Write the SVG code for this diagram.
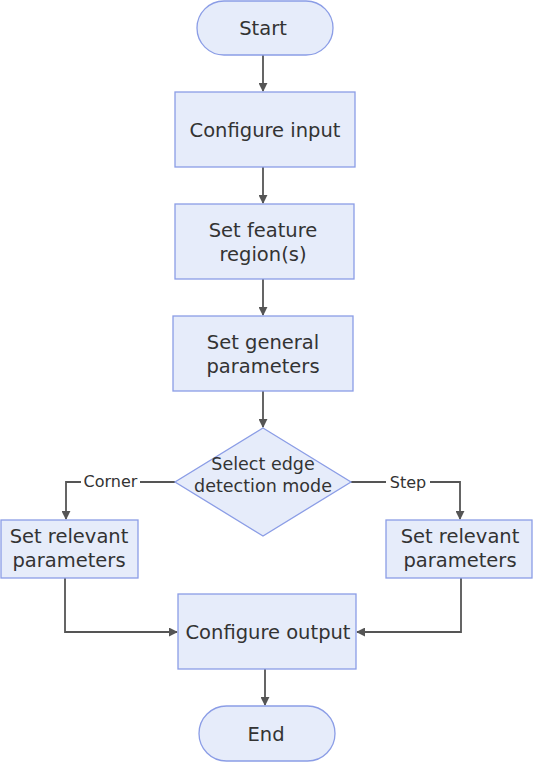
<svg xmlns="http://www.w3.org/2000/svg" width="533" height="762" viewBox="0 0 533 762">
<defs>
<style>
.n{fill:#e6ecfa;stroke:#8b9de6;stroke-width:1.3}
.t{font-family:"DejaVu Sans","Noto Sans",sans-serif;font-size:19.5px;fill:#333;text-anchor:middle;dominant-baseline:central}
.d{font-family:"DejaVu Sans","Noto Sans",sans-serif;font-size:17.5px;fill:#333;text-anchor:middle;dominant-baseline:central}
.l{font-family:"DejaVu Sans","Noto Sans",sans-serif;font-size:16px;fill:#333;text-anchor:middle;dominant-baseline:central}
.e{fill:none;stroke:#555;stroke-width:1.8}
</style>
<marker id="a" viewBox="0 0 10 10" refX="9" refY="5" markerWidth="5" markerHeight="5" orient="auto" markerUnits="strokeWidth">
<path d="M0,0L10,5L0,10z" fill="#555"/>
</marker>
</defs>
<rect width="533" height="762" fill="#fff"/>
<g id="edges">
<path class="e" d="M263,55V91" marker-end="url(#a)"/>
<path class="e" d="M263,167V203" marker-end="url(#a)"/>
<path class="e" d="M263,279V315" marker-end="url(#a)"/>
<path class="e" d="M263,391V427" marker-end="url(#a)"/>
<path class="e" d="M175,482H66V519" marker-end="url(#a)"/>
<path class="e" d="M351,482H460V519" marker-end="url(#a)"/>
<path class="e" d="M65,578V632H177" marker-end="url(#a)"/>
<path class="e" d="M461,578V632H357" marker-end="url(#a)"/>
<path class="e" d="M265,669V705" marker-end="url(#a)"/>
<rect x="81" y="472" width="59" height="20" fill="#fff"/>
<text class="l" x="110.5" y="481">Corner</text>
<rect x="386" y="472" width="44" height="20" fill="#fff"/>
<text class="l" x="408" y="482">Step</text>
</g>
<g id="start"><rect class="n" x="197" y="1" width="136" height="54" rx="27"/><text class="t" x="263" y="28">Start</text></g>
<g id="configure-input"><rect class="n" x="175" y="92" width="180" height="75"/><text class="t" x="265" y="130">Configure input</text></g>
<g id="set-feature"><rect class="n" x="175" y="204" width="179" height="75"/><text class="t" x="263" y="230">Set feature</text><text class="t" x="263" y="254">region(s)</text></g>
<g id="set-general"><rect class="n" x="173" y="316" width="180" height="75"/><text class="t" x="263" y="342">Set general</text><text class="t" x="263" y="366">parameters</text></g>
<g id="select-mode"><polygon class="n" points="263,428 351,482 263,536 175,482"/><text class="d" x="263" y="464">Select edge</text><text class="d" x="263" y="486">detection mode</text></g>
<g id="corner-params"><rect class="n" x="1" y="520" width="137" height="58"/><text class="t" x="69" y="536">Set relevant</text><text class="t" x="69" y="560">parameters</text></g>
<g id="step-params"><rect class="n" x="386" y="520" width="146" height="58"/><text class="t" x="460" y="536">Set relevant</text><text class="t" x="460" y="560">parameters</text></g>
<g id="configure-output"><rect class="n" x="178" y="594" width="178" height="75"/><text class="t" x="268" y="632">Configure output</text></g>
<g id="end"><rect class="n" x="199" y="706" width="136" height="55" rx="27.5"/><text class="t" x="266" y="734">End</text></g>
</svg>
